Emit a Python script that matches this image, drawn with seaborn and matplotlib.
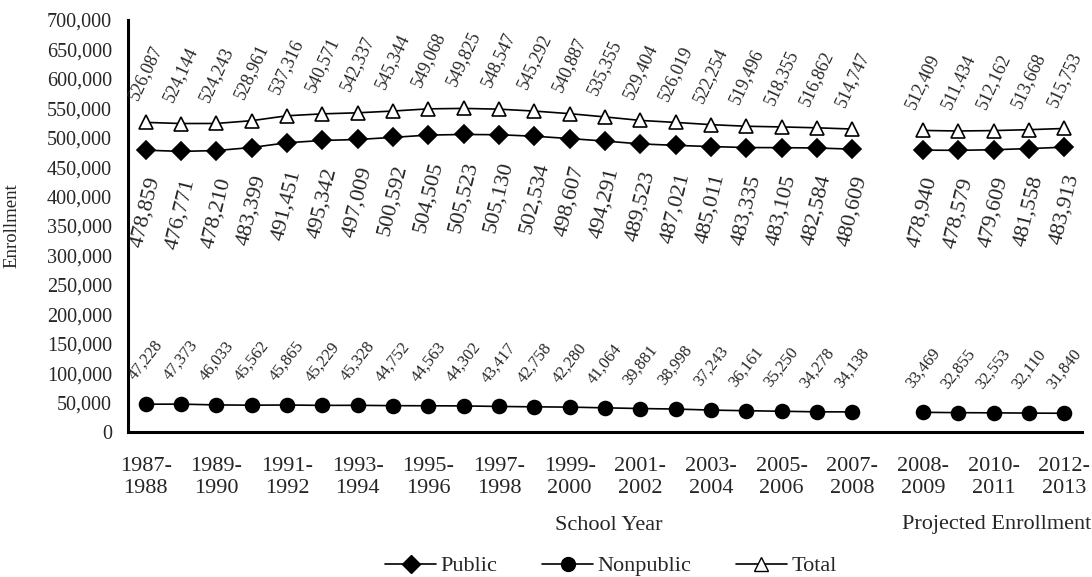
import matplotlib
matplotlib.use("Agg")
import numpy as np
import pandas as pd
import matplotlib.pyplot as plt
import seaborn as sns
from matplotlib.lines import Line2D
from matplotlib.ticker import FuncFormatter

# Datos
anios_hist = ["1987-1988", "1988-1989", "1989-1990", "1990-1991", "1991-1992",
              "1992-1993", "1993-1994", "1994-1995", "1995-1996", "1996-1997",
              "1997-1998", "1998-1999", "1999-2000", "2000-2001", "2001-2002",
              "2002-2003", "2003-2004", "2004-2005", "2005-2006", "2006-2007",
              "2007-2008"]
anios_proy = ["2008-2009", "2009-2010", "2010-2011", "2011-2012", "2012-2013"]

total_hist = [526087, 524144, 524243, 528961, 537316, 540571, 542337, 545344,
              549068, 549825, 548547, 545292, 540887, 535355, 529404, 526019,
              522254, 519496, 518355, 516862, 514747]
total_proy = [512409, 511434, 512162, 513668, 515753]

public_hist = [478859, 476771, 478210, 483399, 491451, 495342, 497009, 500592,
               504505, 505523, 505130, 502534, 498607, 494291, 489523, 487021,
               485011, 483335, 483105, 482584, 480609]
public_proy = [478940, 478579, 479609, 481558, 483913]

nonpublic_hist = [47228, 47373, 46033, 45562, 45865, 45229, 45328, 44752,
                  44563, 44302, 43417, 42758, 42280, 41064, 39881, 38998,
                  37243, 36161, 35250, 34278, 34138]
nonpublic_proy = [33469, 32855, 32553, 32110, 31840]

# posiciones: 21 años históricos, un hueco, 5 proyectados
pos_hist = list(range(len(anios_hist)))
pos_proy = list(range(len(anios_hist) + 1, len(anios_hist) + 1 + len(anios_proy)))

filas = []
for nombre, h, p in [("Public", public_hist, public_proy),
                     ("Nonpublic", nonpublic_hist, nonpublic_proy),
                     ("Total", total_hist, total_proy)]:
    for x, v in zip(pos_hist, h):
        filas.append({"serie": nombre, "pos": x, "valor": v, "tramo": "hist"})
    for x, v in zip(pos_proy, p):
        filas.append({"serie": nombre, "pos": x, "valor": v, "tramo": "proy"})
df = pd.DataFrame(filas)

sns.set_style("white")
plt.rcParams["font.family"] = ["Liberation Serif", "DejaVu Serif"]

fig = plt.figure(figsize=(10.92, 5.77), dpi=100)
ax = fig.add_axes([0.1172, 0.2513, 0.8736, 0.714])

estilos = {
    "Public": dict(marker="D", markersize=9, markerfacecolor="black"),
    "Nonpublic": dict(marker="o", markersize=10, markerfacecolor="black"),
    "Total": dict(marker="^", markersize=10.5, markerfacecolor="white"),
}

for serie, est in estilos.items():
    for tramo in ["hist", "proy"]:
        sub = df[(df["serie"] == serie) & (df["tramo"] == tramo)]
        sns.lineplot(data=sub, x="pos", y="valor", ax=ax, color="black",
                     linewidth=1.2, markeredgecolor="black",
                     markeredgewidth=1.2, legend=False, **est)

# etiquetas de datos
etiquetas = {
    "Total": dict(rot=65, dy=14, va="bottom", size=13),
    "Public": dict(rot=76, dy=-18, va="top", size=16),
    "Nonpublic": dict(rot=52, dy=15, va="bottom", size=12),
}
for serie, cfg in etiquetas.items():
    sub = df[df["serie"] == serie]
    for x, v in zip(sub["pos"], sub["valor"]):
        ax.annotate(f"{v:,}", (x, v), xytext=(0, cfg["dy"]),
                    textcoords="offset points", rotation=cfg["rot"],
                    ha="center", va=cfg["va"], fontsize=cfg["size"])

# ejes
ax.set_xlim(-0.5, pos_proy[-1] + 0.5)
ax.set_ylim(0, 700000)
ax.set_yticks(range(0, 700001, 50000))
ax.yaxis.set_major_formatter(FuncFormatter(lambda v, p: f"{v:,.0f}"))

ax.set_xticks(np.arange(-0.5, pos_proy[-1] + 1, 1))
ax.set_xticklabels([])
pos_etq = pos_hist[::2] + pos_proy[::2]
txt_etq = [a.replace("-", "-\n") for a in anios_hist[::2] + anios_proy[::2]]
ax.set_xticks(pos_etq, minor=True)
ax.set_xticklabels(txt_etq, minor=True)

ax.tick_params(axis="x", which="major", direction="out", length=5, width=2)
ax.tick_params(axis="x", which="minor", length=0, pad=18, labelsize=16)
ax.tick_params(axis="y", direction="out", length=6.5, width=2, labelsize=14.5, pad=5)
ax.set_xlabel("")
ax.set_ylabel("")
sns.despine(ax=ax)
for s in ["left", "bottom"]:
    ax.spines[s].set_linewidth(2.2)
    ax.spines[s].set_color("black")

fig.text(609 / 1092, 1 - 525 / 577, "School Year", ha="center", va="center", fontsize=16)
fig.text(997 / 1092, 1 - 525 / 577, "Projected Enrollment", ha="center", va="center", fontsize=16)
fig.text(12 / 1092, 1 - 226 / 577, "Enrollment", ha="center", va="center",
         rotation=90, fontsize=13.5)

# leyenda
manejadores = [Line2D([], [], color="black", linewidth=1.2, markeredgecolor="black",
                      **estilos[s]) for s in ["Public", "Nonpublic", "Total"]]
fig.legend(manejadores, ["Public", "Nonpublic", "Total"], loc="center",
           bbox_to_anchor=(611 / 1092, 1 - 566 / 577), ncol=3, frameon=False,
           fontsize=16, handlelength=2.3, handletextpad=0.2, columnspacing=2.0)

plt.savefig("out.png", dpi=100)
